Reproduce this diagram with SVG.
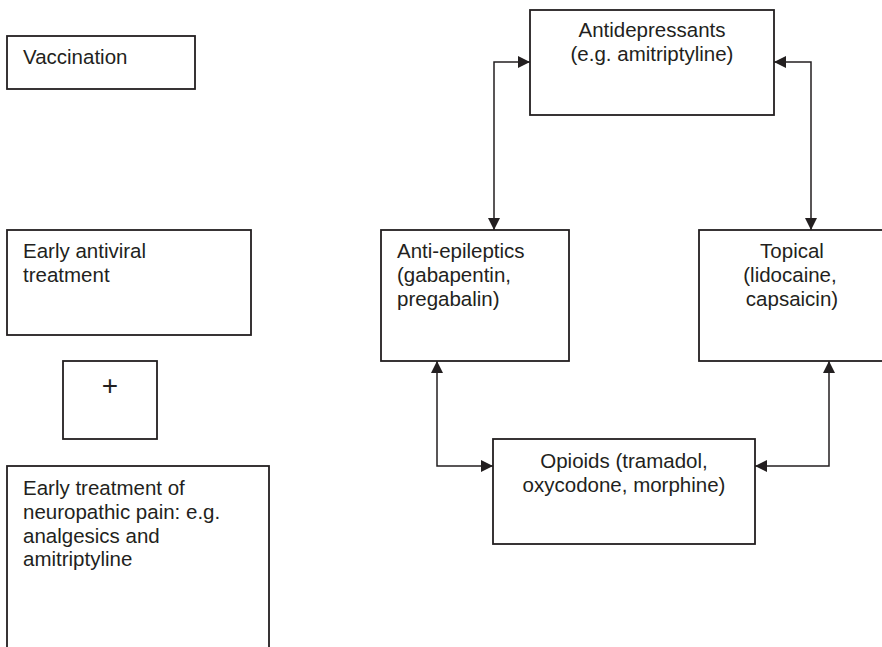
<svg xmlns="http://www.w3.org/2000/svg" width="882" height="647" viewBox="0 0 882 647">
  <style>
    .box { fill: #ffffff; stroke: #231f20; stroke-width: 1.8; }
    .t { font-family: "Liberation Sans", Arial, sans-serif; font-size: 20.5px; fill: #231f20; }
    .c { text-anchor: middle; }
    .conn { fill: none; stroke: #231f20; stroke-width: 1.5; }
  </style>
  <defs>
    <marker id="arr" markerUnits="userSpaceOnUse" markerWidth="13" markerHeight="12" refX="12" refY="6" orient="auto-start-reverse">
      <path d="M0,0 L12,6 L0,12 Z" fill="#231f20"/>
    </marker>
  </defs>
  <rect width="882" height="647" fill="#ffffff"/>

  <g id="vaccination">
    <rect class="box" x="7" y="36" width="188" height="53"/>
    <text class="t" x="23" y="64">Vaccination</text>
  </g>

  <g id="early-antiviral">
    <rect class="box" x="7" y="230" width="244" height="105"/>
    <text class="t" x="23" y="258">Early antiviral</text>
    <text class="t" x="23" y="282">treatment</text>
  </g>

  <g id="plus">
    <rect class="box" x="63" y="361" width="94" height="78"/>
    <text class="t c" x="110" y="395" style="font-size:28px">+</text>
  </g>

  <g id="early-neuropathic">
    <rect class="box" x="7" y="466" width="262" height="200"/>
    <text class="t" x="23" y="495">Early treatment of</text>
    <text class="t" x="23" y="519">neuropathic pain: e.g.</text>
    <text class="t" x="23" y="543">analgesics and</text>
    <text class="t" x="23" y="566">amitriptyline</text>
  </g>

  <g id="antidepressants">
    <rect class="box" x="530" y="10" width="244" height="105"/>
    <text class="t c" x="652" y="37">Antidepressants</text>
    <text class="t c" x="652" y="61">(e.g. amitriptyline)</text>
  </g>

  <g id="anti-epileptics">
    <rect class="box" x="381" y="230" width="188" height="131"/>
    <text class="t" x="397" y="258">Anti-epileptics</text>
    <text class="t" x="397" y="282">(gabapentin,</text>
    <text class="t" x="397" y="306">pregabalin)</text>
  </g>

  <g id="topical">
    <rect class="box" x="699" y="230" width="224" height="131"/>
    <text class="t c" x="792" y="258">Topical</text>
    <text class="t c" x="790" y="282">(lidocaine,</text>
    <text class="t c" x="792" y="306">capsaicin)</text>
  </g>

  <g id="opioids">
    <rect class="box" x="493" y="439" width="262" height="105"/>
    <text class="t c" x="624" y="468">Opioids (tramadol,</text>
    <text class="t c" x="624" y="492">oxycodone, morphine)</text>
  </g>

  <g id="connectors">
    <path class="conn" d="M494,230 V62 H530" marker-start="url(#arr)" marker-end="url(#arr)"/>
    <path class="conn" d="M811,230 V62 H774" marker-start="url(#arr)" marker-end="url(#arr)"/>
    <path class="conn" d="M437,361 V466 H493" marker-start="url(#arr)" marker-end="url(#arr)"/>
    <path class="conn" d="M829,361 V466 H755" marker-start="url(#arr)" marker-end="url(#arr)"/>
  </g>
</svg>
